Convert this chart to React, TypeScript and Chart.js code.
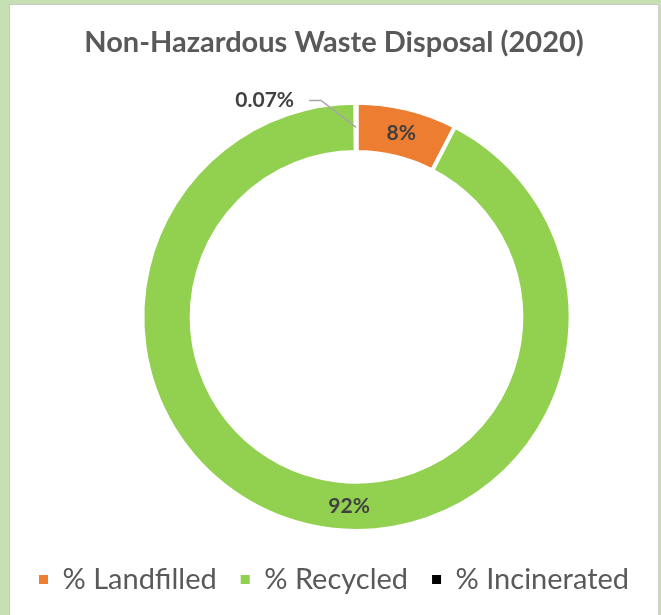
import React, { useEffect, useRef } from "react";
import { Chart, registerables } from "chart.js";

Chart.register(...registerables);

const TITLE = "Non-Hazardous Waste Disposal (2020)";
const CATEGORIES = ["% Landfilled", "% Recycled", "% Incinerated"];
const VALUES = [7.6, 92.33, 0.07];
const COLORS = ["#ED7D31", "#92D050", "#000000"];
// where along each slice its label sits (0 = start, 1 = end)
const LABEL_FRACTION = [0.5, 0.466, 0.5];

const FONT = "Lato, 'Open Sans', 'DejaVu Sans', sans-serif";

function formatPct(v: number): string {
  return v >= 1 ? `${Math.round(v)}%` : `${v.toFixed(2)}%`;
}

const sliceLabels = {
  id: "sliceLabels",
  afterDatasetsDraw(chart: any) {
    const ctx = chart.ctx as CanvasRenderingContext2D;
    const meta = chart.getDatasetMeta(0);
    ctx.save();
    ctx.font = `bold 21px ${FONT}`;
    ctx.fillStyle = "#404040";
    ctx.textBaseline = "middle";
    meta.data.forEach((arc: any, i: number) => {
      const p = arc.getProps(["x", "y", "startAngle", "endAngle", "innerRadius", "outerRadius"], true);
      const a = p.startAngle + (p.endAngle - p.startAngle) * LABEL_FRACTION[i];
      const r = (p.innerRadius + p.outerRadius) / 2;
      const px = p.x + Math.cos(a) * r;
      const py = p.y + Math.sin(a) * r;
      const text = formatPct(VALUES[i]);
      if (VALUES[i] >= 1) {
        ctx.textAlign = "center";
        ctx.fillText(text, px, py);
      } else {
        const ex = px - 35;
        const ey = py - 27;
        ctx.strokeStyle = "#a6a6a6";
        ctx.lineWidth = 1.5;
        ctx.beginPath();
        ctx.moveTo(px, py);
        ctx.lineTo(ex, ey);
        ctx.lineTo(ex - 12, ey);
        ctx.stroke();
        ctx.textAlign = "right";
        ctx.fillText(text, ex - 27, ey);
      }
    });
    ctx.restore();
  },
};

// shifts the plot area to the right of the centred title/legend and trims its foot
const shiftPlot = {
  id: "shiftPlot",
  afterLayout(chart: any) {
    const shift = 45;
    const trim = 8;
    chart.chartArea.left += shift;
    chart.chartArea.width -= shift;
    chart.chartArea.bottom -= trim;
    chart.chartArea.height -= trim;
  },
};

export default function App() {
  const canvasRef = useRef<HTMLCanvasElement | null>(null);

  useEffect(() => {
    if (!canvasRef.current) return;
    const chart = new Chart(canvasRef.current, {
      type: "doughnut",
      data: {
        labels: CATEGORIES,
        datasets: [
          {
            data: VALUES,
            backgroundColor: COLORS,
            borderColor: "#ffffff",
            borderWidth: 4,
          },
        ],
      },
      options: {
        animation: false,
        responsive: true,
        maintainAspectRatio: false,
        cutout: "77%",
        layout: { padding: { left: 0, right: 0, top: 0, bottom: 12 } },
        plugins: {
          title: {
            display: true,
            text: TITLE,
            color: "#595959",
            font: { family: FONT, size: 29, weight: "bold" },
            padding: { top: 20, bottom: 41 },
          },
          legend: {
            position: "bottom",
            labels: {
              boxWidth: 9,
              boxHeight: 9,
              padding: 24,
              color: "#595959",
              font: { family: FONT, size: 29 },
              generateLabels: (c: any) =>
                (Chart as any).overrides.doughnut.plugins.legend.labels
                  .generateLabels(c)
                  .map((l: any) => ({ ...l, lineWidth: 0, strokeStyle: "rgba(0,0,0,0)" })),
            },
          },
          tooltip: { enabled: false },
        },
      },
      plugins: [sliceLabels, shiftPlot],
    });
    return () => chart.destroy();
  }, []);

  return (
    <div style={{ position: "fixed", left: 0, top: 0, width: 661, height: 615, background: "#c6e0b4" }}>
      <div
        style={{
          position: "absolute",
          left: 9,
          top: 4,
          width: 648,
          height: 611,
          background: "#ffffff",
          borderLeft: "1px solid #c8c8c8",
          borderTop: "1px solid #c8c8c8",
          borderRight: "1px solid #d0d0d0",
        }}
      >
        <canvas ref={canvasRef} />
      </div>
    </div>
  );
}
